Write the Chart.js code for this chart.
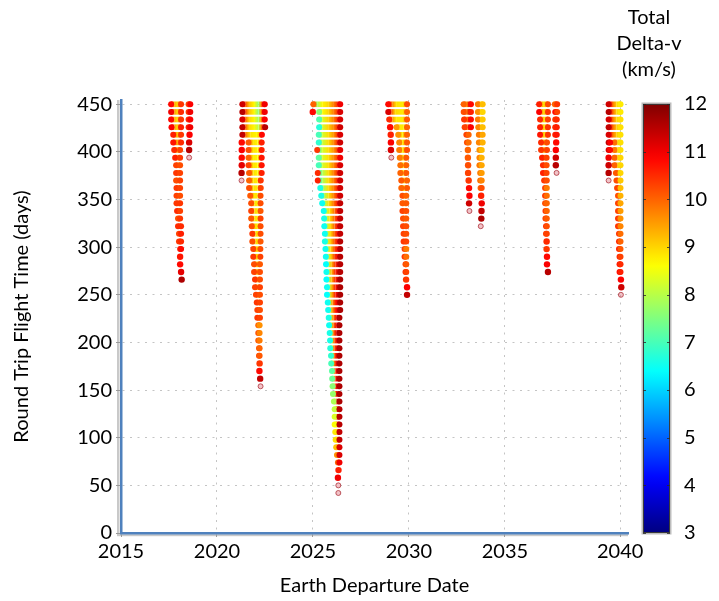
<!DOCTYPE html>
<html>
<head>
<meta charset="utf-8">
<script src="https://cdn.jsdelivr.net/npm/chart.js@4.4.0/dist/chart.umd.min.js"></script>
<style>
  html, body { margin: 0; padding: 0; background: #fff; }
</style>
</head>
<body>
<canvas id="porkchop" width="719" height="601"></canvas>
<script>
// ===================================
// Round trip flight time vs. Earth departure date, coloured by total delta-v
// ===================================

// Flight time of each row (days); row i of every window uses flightTimes[i]
const flightTimes = [450, 442, 434, 426, 418, 410, 402, 394, 386, 378, 370, 362, 354, 346, 338, 330,
    322, 314, 306, 298, 290, 282, 274, 266, 258, 250, 242, 234, 226, 218, 210, 202, 194, 186, 178,
    170, 162, 154, 146, 138, 130, 122, 114, 106, 98, 90, 82, 74, 66, 58, 50, 42];

const xTickValues = [2015, 2020, 2025, 2030, 2035, 2041];
const xTickLabels = ['2015', '2020', '2025', '2030', '2035', '2040'];
const yTickValues = [0, 50, 100, 150, 200, 250, 300, 350, 400, 450];
const colorbarTicks = [3, 4, 5, 6, 7, 8, 9, 10, 11, 12];
const colorbarTitle = ['Total', 'Delta-v', '(km/s)'];
const dvMin = 3;
const dvMax = 12;

// Each row is a list of runs; a run is [departure year, delta-v, departure year, delta-v, ...]
const launch2018 = [
    [[2017.61, 10.8, 2017.77, 9.4, 2017.92, 9.0, 2018.13, 10.4], [2018.52, 10.3, 2018.61, 10.9]],
    [[2017.61, 11.0, 2017.77, 9.6, 2017.92, 9.0, 2018.13, 10.5], [2018.52, 10.4, 2018.61, 11.0]],
    [[2017.61, 10.8, 2017.77, 9.4, 2017.92, 8.9, 2018.13, 10.4], [2018.52, 10.5, 2018.61, 10.9]],
    [[2017.63, 10.9, 2017.79, 9.5, 2017.92, 9.0, 2018.13, 10.6], [2018.52, 10.6, 2018.61, 11.0]],
    [[2017.72, 10.6, 2017.92, 9.1, 2018.13, 10.4], [2018.57, 10.9]],
    [[2017.72, 10.7, 2017.92, 9.3, 2018.13, 10.5], [2018.55, 11.2]],
    [[2017.77, 10.5, 2017.92, 9.3, 2018.08, 10.3], [2018.55, 11.5]],
    [[2017.82, 10.6, 2017.95, 9.4, 2018.08, 10.4], [2018.55, 11.7]],
    [[2017.87, 10.3, 2017.97, 9.4, 2018.08, 10.2]],
    [[2017.87, 10.4, 2017.97, 9.5, 2018.08, 10.3]],
    [[2017.87, 10.2, 2017.97, 9.3, 2018.08, 10.3]],
    [[2017.89, 10.4, 2017.99, 9.5, 2018.08, 10.3]],
    [[2017.89, 10.3, 2017.99, 9.6, 2018.08, 10.2]],
    [[2017.89, 10.4, 2017.99, 9.7, 2018.08, 10.4]],
    [[2017.92, 10.5, 2018.00, 9.6, 2018.08, 10.3]],
    [[2017.97, 10.2, 2018.08, 10.4]],
    [[2017.97, 10.5, 2018.05, 9.8, 2018.13, 10.5]],
    [[2018.02, 10.3, 2018.13, 10.6]],
    [[2018.02, 10.4, 2018.13, 10.5]],
    [[2018.08, 10.6, 2018.13, 10.8]],
    [[2018.08, 10.7]],
    [[2018.08, 10.8]],
    [[2018.13, 11.1]],
    [[2018.16, 11.6]]
];

const launch2022 = [
    [[2021.32, 11.3, 2021.47, 10.2, 2021.67, 9.2, 2021.93, 8.7, 2022.16, 7.7, 2022.29, 9.6, 2022.39, 10.8, 2022.49, 11.0]],
    [[2021.32, 11.5, 2021.47, 10.3, 2021.67, 9.2, 2021.93, 8.7, 2022.16, 7.6, 2022.29, 9.5, 2022.39, 10.7, 2022.49, 11.0]],
    [[2021.32, 11.2, 2021.47, 10.0, 2021.67, 9.0, 2021.93, 8.7, 2022.16, 7.8, 2022.29, 9.4, 2022.39, 10.8, 2022.49, 10.9]],
    [[2021.32, 11.4, 2021.47, 10.1, 2021.67, 9.0, 2021.93, 8.7, 2022.16, 8.0, 2022.29, 9.6, 2022.39, 10.8, 2022.51, 11.5]],
    [[2021.32, 11.4, 2021.47, 9.9, 2021.73, 8.9, 2022.08, 8.7, 2022.24, 9.4, 2022.34, 10.8]],
    [[2021.29, 10.8], [2021.64, 10.1, 2021.88, 8.9, 2022.11, 8.7, 2022.23, 9.3, 2022.33, 10.6]],
    [[2021.29, 10.9], [2021.64, 10.2, 2021.88, 8.9, 2022.11, 8.7, 2022.23, 9.2, 2022.33, 10.6]],
    [[2021.29, 10.8], [2021.64, 10.0, 2021.88, 8.8, 2022.11, 8.7, 2022.23, 9.3, 2022.33, 10.7]],
    [[2021.29, 11.1], [2021.64, 10.3, 2021.88, 8.9, 2022.11, 8.7, 2022.23, 9.4, 2022.33, 10.7]],
    [[2021.28, 11.5], [2021.67, 10.1, 2021.91, 8.9, 2022.11, 8.7, 2022.23, 9.3, 2022.33, 10.6]],
    [[2021.28, 11.8], [2021.67, 10.0, 2021.91, 8.9, 2022.11, 8.8, 2022.28, 10.4]],
    [[2021.67, 10.2, 2021.91, 8.9, 2022.11, 8.8, 2022.28, 10.3]],
    [[2021.73, 10.1, 2021.93, 8.9, 2022.11, 8.8, 2022.27, 10.2]],
    [[2021.78, 10.2, 2021.96, 8.9, 2022.13, 8.8, 2022.27, 10.2]],
    [[2021.78, 10.3, 2021.96, 9.0, 2022.13, 8.8, 2022.27, 10.1]],
    [[2021.78, 10.1, 2021.96, 8.9, 2022.13, 8.8, 2022.27, 10.3]],
    [[2021.81, 10.2, 2021.98, 9.0, 2022.13, 8.8, 2022.27, 10.2]],
    [[2021.84, 10.4, 2022.01, 9.0, 2022.14, 8.8, 2022.27, 10.2]],
    [[2021.84, 10.2, 2022.01, 9.0, 2022.14, 8.8, 2022.27, 10.1]],
    [[2021.89, 10.3, 2022.03, 9.1, 2022.16, 8.9, 2022.26, 10.2]],
    [[2021.89, 10.4, 2022.03, 9.1, 2022.16, 8.9, 2022.26, 10.3]],
    [[2021.93, 10.2, 2022.08, 9.0, 2022.24, 10.1]],
    [[2021.93, 10.3, 2022.08, 9.1, 2022.24, 10.2]],
    [[2021.98, 10.4, 2022.11, 9.1, 2022.24, 10.2]],
    [[2021.98, 10.3, 2022.11, 9.2, 2022.24, 10.3]],
    [[2022.03, 10.3, 2022.14, 9.2, 2022.24, 10.2]],
    [[2022.07, 10.4, 2022.16, 9.3, 2022.24, 10.3]],
    [[2022.10, 10.3, 2022.17, 9.3, 2022.24, 10.2]],
    [[2022.10, 10.4, 2022.17, 9.4, 2022.24, 10.3]],
    [[2022.15, 10.0, 2022.22, 9.6]],
    [[2022.15, 10.2, 2022.22, 9.7]],
    [[2022.15, 10.1, 2022.22, 9.8]],
    [[2022.19, 10.2, 2022.22, 10.0]],
    [[2022.19, 10.3, 2022.22, 10.1]],
    [[2022.22, 10.4]],
    [[2022.21, 10.8]],
    [[2022.25, 11.4]],
    [[2022.27, 11.8]]
];

const launch2026 = [
    [[2025.02, 10.0, 2025.22, 7.8, 2025.48, 8.7, 2025.79, 9.0, 2026.09, 9.8, 2026.30, 10.5, 2026.42, 11.0]],
    [[2024.99, 10.8], [2025.32, 7.6, 2025.48, 8.6, 2025.79, 9.0, 2026.09, 9.8, 2026.30, 10.5, 2026.42, 11.2]],
    [[2025.32, 7.1, 2025.48, 8.3, 2025.79, 9.0, 2026.09, 9.8, 2026.30, 10.6, 2026.42, 11.2]],
    [[2025.32, 6.7, 2025.48, 8.2, 2025.79, 9.0, 2026.09, 9.7, 2026.30, 10.6, 2026.42, 11.3]],
    [[2025.30, 7.0, 2025.48, 8.2, 2025.79, 8.9, 2026.09, 9.6, 2026.30, 10.5, 2026.42, 11.2]],
    [[2025.30, 6.8, 2025.48, 8.1, 2025.79, 8.9, 2026.09, 9.7, 2026.30, 10.6, 2026.42, 11.3]],
    [[2025.22, 10.4, 2025.32, 7.0, 2025.48, 8.2, 2025.79, 8.9, 2026.09, 9.6, 2026.30, 10.4, 2026.42, 11.1]],
    [[2025.30, 7.2, 2025.48, 8.3, 2025.79, 8.9, 2026.09, 9.7, 2026.30, 10.4, 2026.42, 11.0]],
    [[2025.30, 7.0, 2025.48, 8.2, 2025.79, 8.9, 2026.09, 9.7, 2026.30, 10.5, 2026.42, 11.2]],
    [[2025.25, 10.5, 2025.35, 6.9, 2025.51, 8.0, 2025.79, 8.9, 2026.09, 9.8, 2026.30, 10.6, 2026.42, 11.3]],
    [[2025.25, 10.6, 2025.35, 6.7, 2025.51, 7.9, 2025.79, 8.9, 2026.09, 9.8, 2026.30, 10.7, 2026.42, 11.3]],
    [[2025.38, 6.6, 2025.53, 7.8, 2025.79, 8.9, 2026.09, 9.8, 2026.30, 10.7, 2026.42, 11.3]],
    [[2025.43, 6.6, 2025.58, 7.9, 2025.82, 8.9, 2026.09, 9.8, 2026.30, 10.7, 2026.42, 11.3]],
    [[2025.48, 6.5, 2025.61, 7.9, 2025.82, 8.9, 2026.09, 9.9, 2026.30, 10.8, 2026.42, 11.4]],
    [[2025.56, 6.5, 2025.67, 8.0, 2025.87, 8.9, 2026.12, 9.9, 2026.30, 10.8, 2026.42, 11.4]],
    [[2025.58, 6.6, 2025.69, 8.0, 2025.87, 8.9, 2026.12, 10.0, 2026.30, 10.8, 2026.42, 11.4]],
    [[2025.59, 6.5, 2025.70, 7.9, 2025.89, 8.9, 2026.12, 10.0, 2026.30, 10.9, 2026.42, 11.4]],
    [[2025.62, 6.5, 2025.73, 7.9, 2025.89, 8.9, 2026.14, 10.1, 2026.30, 10.9, 2026.42, 11.4]],
    [[2025.62, 6.6, 2025.73, 8.0, 2025.89, 9.0, 2026.14, 10.2, 2026.30, 10.9, 2026.42, 11.5]],
    [[2025.65, 6.5, 2025.77, 8.0, 2025.92, 9.0, 2026.14, 10.3, 2026.30, 10.9, 2026.42, 11.5]],
    [[2025.67, 6.5, 2025.79, 8.1, 2025.94, 9.1, 2026.14, 10.4, 2026.30, 11.0, 2026.42, 11.5]],
    [[2025.68, 6.4, 2025.80, 8.0, 2025.95, 9.2, 2026.17, 10.5, 2026.42, 11.5]],
    [[2025.70, 6.5, 2025.82, 8.1, 2025.97, 9.3, 2026.17, 10.6, 2026.42, 11.5]],
    [[2025.70, 6.4, 2025.82, 8.0, 2025.97, 9.3, 2026.17, 10.6, 2026.42, 11.6]],
    [[2025.73, 6.5, 2025.85, 8.1, 2025.99, 9.4, 2026.17, 10.7, 2026.42, 11.6]],
    [[2025.73, 6.4, 2025.85, 8.0, 2025.99, 9.4, 2026.17, 10.7, 2026.42, 11.6]],
    [[2025.77, 6.5, 2025.89, 8.2, 2026.02, 9.6, 2026.20, 10.8, 2026.42, 11.6]],
    [[2025.79, 6.5, 2025.90, 8.2, 2026.04, 9.7, 2026.20, 10.8, 2026.42, 11.6]],
    [[2025.82, 6.6, 2025.93, 8.3, 2026.07, 9.8, 2026.22, 10.9, 2026.38, 11.6]],
    [[2025.84, 6.5, 2025.94, 8.3, 2026.07, 9.9, 2026.22, 10.9, 2026.38, 11.6]],
    [[2025.87, 6.6, 2025.97, 8.4, 2026.09, 10.0, 2026.22, 11.0, 2026.38, 11.6]],
    [[2025.89, 6.6, 2025.99, 8.4, 2026.11, 10.1, 2026.25, 11.0, 2026.38, 11.6]],
    [[2025.90, 6.7, 2026.00, 8.5, 2026.12, 10.2, 2026.25, 11.0, 2026.38, 11.6]],
    [[2025.94, 6.8, 2026.03, 8.5, 2026.14, 10.3, 2026.27, 11.1, 2026.38, 11.6]],
    [[2025.95, 7.0, 2026.04, 8.6, 2026.15, 10.4, 2026.27, 11.1, 2026.38, 11.6]],
    [[2025.99, 7.2, 2026.07, 8.7, 2026.17, 10.5, 2026.27, 11.1, 2026.38, 11.6]],
    [[2026.00, 7.3, 2026.08, 8.7, 2026.17, 10.5, 2026.27, 11.2, 2026.38, 11.6]],
    [[2026.02, 7.6, 2026.10, 8.8, 2026.19, 10.6, 2026.29, 11.2, 2026.38, 11.6]],
    [[2026.04, 7.7, 2026.12, 8.8, 2026.20, 10.6, 2026.29, 11.2, 2026.38, 11.6]],
    [[2026.09, 7.9, 2026.15, 8.8, 2026.22, 10.7, 2026.38, 11.6]],
    [[2026.13, 8.1, 2026.19, 8.9, 2026.25, 10.8, 2026.38, 11.5]],
    [[2026.13, 8.3, 2026.19, 9.0, 2026.25, 10.8, 2026.38, 11.5]],
    [[2026.13, 8.6, 2026.20, 9.1, 2026.27, 10.9, 2026.38, 11.5]],
    [[2026.16, 8.8, 2026.23, 9.3, 2026.29, 10.9, 2026.38, 11.4]],
    [[2026.18, 8.9, 2026.25, 9.5, 2026.31, 10.9, 2026.38, 11.4]],
    [[2026.21, 9.2, 2026.27, 9.9, 2026.38, 11.2]],
    [[2026.25, 9.6, 2026.31, 10.6, 2026.38, 11.2]],
    [[2026.30, 10.0, 2026.38, 11.0]],
    [[2026.33, 10.6]],
    [[2026.30, 11.0]],
    [[2026.32, 11.8]],
    [[2026.32, 11.8]]
];

const launch2029 = [
    [[2028.92, 10.8, 2029.13, 9.8, 2029.33, 8.9, 2029.64, 8.8, 2029.82, 9.2, 2029.90, 10.2]],
    [[2028.92, 11.2, 2029.08, 10.2, 2029.28, 9.0, 2029.64, 8.8, 2029.82, 9.2, 2029.90, 10.0]],
    [[2028.97, 10.5, 2029.15, 9.5, 2029.33, 8.8, 2029.64, 8.8, 2029.82, 9.3, 2029.90, 10.1]],
    [[2029.02, 10.8], [2029.35, 9.5, 2029.53, 8.8, 2029.73, 8.8, 2029.90, 10.0]],
    [[2029.05, 10.6], [2029.44, 9.6, 2029.65, 8.8, 2029.90, 10.0]],
    [[2029.06, 10.9], [2029.49, 9.7, 2029.68, 8.8, 2029.90, 10.1]],
    [[2029.06, 11.2], [2029.49, 9.8, 2029.68, 8.8, 2029.90, 10.2]],
    [[2029.08, 11.7], [2029.52, 9.8, 2029.70, 8.8, 2029.86, 10.1]],
    [[2029.55, 9.9, 2029.71, 8.8, 2029.86, 10.0]],
    [[2029.55, 10.0, 2029.71, 8.9, 2029.86, 10.1]],
    [[2029.60, 10.1, 2029.75, 8.9, 2029.90, 10.0]],
    [[2029.60, 10.0, 2029.75, 8.9, 2029.90, 10.1]],
    [[2029.66, 10.2, 2029.76, 9.0, 2029.86, 10.0]],
    [[2029.66, 10.1, 2029.76, 9.0, 2029.86, 10.1]],
    [[2029.66, 10.3, 2029.76, 9.1, 2029.86, 10.2]],
    [[2029.69, 10.2, 2029.78, 9.2, 2029.86, 10.1]],
    [[2029.69, 10.3, 2029.78, 9.3, 2029.86, 10.2]],
    [[2029.72, 10.3, 2029.79, 9.4, 2029.86, 10.2]],
    [[2029.72, 10.4, 2029.79, 9.5, 2029.86, 10.3]],
    [[2029.77, 10.3, 2029.86, 9.8]],
    [[2029.77, 10.4, 2029.86, 9.9]],
    [[2029.82, 10.3, 2029.86, 10.1]],
    [[2029.82, 10.5, 2029.86, 10.3]],
    [[2029.85, 10.4]],
    [[2029.90, 10.9]],
    [[2029.90, 11.4]]
];

const launch2033 = [
    [[2032.85, 10.0, 2033.02, 9.6, 2033.15, 11.2, 2033.23, 10.8], [2033.59, 9.8, 2033.71, 8.8, 2033.84, 9.2]],
    [[2032.85, 10.2, 2033.02, 9.8, 2033.13, 11.4, 2033.23, 10.6], [2033.59, 9.6, 2033.71, 8.9, 2033.84, 9.0]],
    [[2032.87, 10.4, 2033.02, 9.7, 2033.15, 11.0, 2033.23, 10.8], [2033.59, 9.8, 2033.71, 8.8, 2033.84, 9.1]],
    [[2032.90, 10.3, 2033.04, 9.8, 2033.15, 11.0, 2033.23, 10.9], [2033.61, 9.7, 2033.73, 8.8, 2033.84, 9.2]],
    [[2032.99, 10.3, 2033.11, 10.0], [2033.64, 9.8, 2033.74, 8.8, 2033.84, 9.4]],
    [[2033.02, 10.2, 2033.11, 9.9], [2033.64, 9.7, 2033.74, 8.9, 2033.84, 9.3]],
    [[2033.07, 10.0], [2033.67, 9.6, 2033.79, 9.2]],
    [[2033.07, 10.1], [2033.67, 9.7, 2033.79, 9.3]],
    [[2033.08, 10.2], [2033.67, 9.8, 2033.79, 9.4]],
    [[2033.08, 10.3], [2033.71, 9.8, 2033.79, 9.5]],
    [[2033.11, 10.4], [2033.71, 9.9, 2033.79, 9.7]],
    [[2033.13, 10.8], [2033.73, 10.0, 2033.79, 10.2]],
    [[2033.15, 10.9], [2033.76, 10.6]],
    [[2033.13, 11.3], [2033.79, 11.0]],
    [[2033.15, 11.8], [2033.78, 11.4]],
    [[2033.77, 11.6]],
    [[2033.74, 11.8]]
];

const launch2037 = [
    [[2036.78, 10.6, 2036.91, 9.4, 2037.03, 8.9, 2037.14, 9.2, 2037.24, 10.2], [2037.60, 10.0, 2037.72, 10.4]],
    [[2036.78, 10.9, 2036.91, 9.5, 2037.03, 9.0, 2037.14, 9.3, 2037.24, 10.4], [2037.62, 10.8, 2037.72, 10.3]],
    [[2036.83, 10.5, 2036.94, 9.3, 2037.04, 8.9, 2037.14, 9.2, 2037.24, 10.3], [2037.62, 10.4, 2037.70, 10.5]],
    [[2036.83, 10.6, 2036.94, 9.4, 2037.04, 8.9, 2037.14, 9.3, 2037.24, 10.4], [2037.62, 10.5, 2037.70, 10.6]],
    [[2036.83, 10.7, 2036.94, 9.4, 2037.04, 9.0, 2037.14, 9.3, 2037.24, 10.4], [2037.62, 10.6, 2037.70, 10.7]],
    [[2036.88, 10.5, 2036.99, 9.3, 2037.09, 9.2, 2037.19, 10.2], [2037.67, 10.8]],
    [[2036.88, 10.4, 2036.99, 9.4, 2037.09, 9.3, 2037.19, 10.3], [2037.65, 10.9]],
    [[2036.93, 10.6, 2037.04, 9.5, 2037.17, 10.3], [2037.65, 11.3]],
    [[2036.98, 10.5, 2037.07, 9.5, 2037.17, 10.2], [2037.65, 11.5]],
    [[2036.98, 10.6, 2037.07, 9.6, 2037.17, 10.3], [2037.69, 11.8]],
    [[2037.04, 10.4, 2037.11, 9.6, 2037.18, 10.2]],
    [[2037.09, 10.3, 2037.18, 9.8]],
    [[2037.09, 10.4, 2037.18, 9.9]],
    [[2037.09, 10.2, 2037.18, 10.0]],
    [[2037.11, 10.4, 2037.18, 10.0]],
    [[2037.11, 10.3, 2037.18, 10.1]],
    [[2037.14, 10.5, 2037.18, 10.2]],
    [[2037.14, 10.4, 2037.18, 10.3]],
    [[2037.17, 10.5]],
    [[2037.17, 10.4]],
    [[2037.19, 10.8]],
    [[2037.19, 10.9]],
    [[2037.24, 11.5]]
];

const launch2040 = [
    [[2040.40, 11.3, 2040.50, 10.8, 2040.63, 9.8, 2040.82, 9.0, 2041.02, 8.8]],
    [[2040.40, 11.5, 2040.50, 10.9, 2040.63, 9.9, 2040.82, 9.0, 2041.02, 8.8]],
    [[2040.40, 11.2, 2040.50, 10.7, 2040.63, 9.8, 2040.82, 9.0, 2041.02, 8.9]],
    [[2040.40, 11.4, 2040.50, 10.8, 2040.63, 9.9, 2040.82, 9.1, 2041.02, 8.9]],
    [[2040.40, 11.2, 2040.50, 10.7, 2040.63, 9.8, 2040.82, 9.1, 2041.02, 8.9]],
    [[2040.40, 11.4, 2040.48, 10.9], [2040.70, 9.9, 2040.85, 9.1, 2041.02, 8.9]],
    [[2040.40, 11.2, 2040.48, 10.8], [2040.70, 9.8, 2040.85, 9.1, 2041.02, 8.9]],
    [[2040.40, 11.0], [2040.70, 10.0, 2040.85, 9.2, 2041.02, 9.0]],
    [[2040.40, 11.3], [2040.70, 10.0, 2040.85, 9.2, 2041.02, 9.0]],
    [[2040.40, 11.5], [2040.78, 10.1, 2040.90, 9.3, 2041.02, 9.0]],
    [[2040.40, 11.8], [2040.81, 10.2, 2040.92, 9.4, 2041.02, 9.1]],
    [[2040.84, 10.3, 2040.93, 9.5, 2041.02, 9.2]],
    [[2040.89, 10.2, 2041.02, 9.3]],
    [[2040.89, 10.3, 2041.02, 9.4]],
    [[2040.89, 10.3, 2041.02, 9.5]],
    [[2040.89, 10.4, 2041.02, 9.6]],
    [[2040.89, 10.4, 2041.02, 9.7]],
    [[2040.94, 10.4, 2041.02, 9.9]],
    [[2040.94, 10.5, 2041.02, 10.0]],
    [[2040.94, 10.6, 2041.02, 10.1]],
    [[2040.97, 10.6, 2041.02, 10.3]],
    [[2040.97, 10.7, 2041.02, 10.5]],
    [[2040.97, 10.8, 2041.02, 10.6]],
    [[2041.04, 10.9]],
    [[2041.06, 11.3]],
    [[2041.04, 11.8]]
];

const launchWindows = [launch2018, launch2022, launch2026, launch2029, launch2033, launch2037, launch2040];

// Layout (pixels)
const PLOT_TOP = 100;
const X_AXIS_HEIGHT = 65;
const Y_AXIS_WIDTH = 121;
const RIGHT_SPACE = 91;
const STRIP_WIDTH = 5.6;
const AXIS_BLUE = '#4f81bd';
const FONT = 'Lato, "Open Sans", sans-serif';

Chart.defaults.font.family = FONT;
Chart.defaults.font.size = 20;
Chart.defaults.color = '#000';

// Jet colormap over [dvMin, dvMax]
function jet(dv, alpha) {
    const t = Math.min(1, Math.max(0, (dv - dvMin) / (dvMax - dvMin)));
    const c = v => Math.round(255 * Math.min(1, Math.max(0, v)));
    const r = c(1.5 - Math.abs(4 * t - 3));
    const g = c(1.5 - Math.abs(4 * t - 2));
    const b = c(1.5 - Math.abs(4 * t - 1));
    return `rgba(${r}, ${g}, ${b}, ${alpha === undefined ? 1 : alpha})`;
}

function stripDataset(pts) {
    const n = pts.length;
    const faint = n === 1 && pts[0].dv >= 11.7;
    return {
        data: pts,
        xAxisID: 'x',
        yAxisID: 'y',
        borderWidth: STRIP_WIDTH,
        borderCapStyle: 'butt',
        borderJoinStyle: 'miter',
        borderColor: jet(pts[0].dv),
        fill: false,
        tension: 0,
        // round ends of each strip come from the first and last point
        pointRadius: c => {
            if (n === 1) return faint ? 2.5 : 3.2;
            return (c.dataIndex === 0 || c.dataIndex === n - 1) ? STRIP_WIDTH / 2 + 0.2 : 0;
        },
        pointBorderWidth: faint ? 1 : 0,
        pointBackgroundColor: c => faint ? 'rgba(225, 120, 130, 0.45)' : jet(pts[c.dataIndex].dv),
        pointBorderColor: 'rgba(170, 40, 50, 0.75)',
        segment: {
            borderColor: c => {
                const grad = c.chart.ctx.createLinearGradient(c.p0.x, 0, c.p1.x + 0.01, 0);
                grad.addColorStop(0, jet(pts[c.p0DataIndex].dv));
                grad.addColorStop(1, jet(pts[c.p1DataIndex].dv));
                return grad;
            }
        }
    };
}

const datasets = [];
launchWindows.forEach(rows => {
    rows.forEach((runs, i) => {
        runs.forEach(run => {
            const pts = [];
            for (let k = 0; k < run.length; k += 2) {
                pts.push({ x: run[k], y: flightTimes[i], dv: run[k + 1] });
            }
            datasets.push(stripDataset(pts));
        });
    });
});

// Grey shadow behind the blue axes
const axisShadowPlugin = {
    id: 'axisShadow',
    beforeDraw(chart) {
        const { ctx, chartArea: a } = chart;
        ctx.save();
        ctx.fillStyle = '#c9c9c9';
        ctx.fillRect(a.left - 4, a.top, 2.5, a.bottom - a.top + 2);
        ctx.fillRect(a.left - 4, a.bottom + 1.2, a.right - a.left + 4, 2);
        ctx.restore();
    }
};

// Colour bar with its title
const colorbarPlugin = {
    id: 'colorbar',
    afterDraw(chart) {
        const { ctx, chartArea: a } = chart;
        const cb = chart.scales.cb;
        const top = cb.getPixelForValue(dvMax);
        const bottom = cb.getPixelForValue(dvMin);
        const x0 = a.right + 15;
        const w = 27;

        ctx.save();
        const grad = ctx.createLinearGradient(0, bottom, 0, top);
        for (let i = 0; i <= 45; i++) {
            grad.addColorStop(i / 45, jet(dvMin + (dvMax - dvMin) * i / 45));
        }
        ctx.fillStyle = '#bdbdbd';
        ctx.fillRect(x0 - 1.5, top - 1.5, w + 3, bottom - top + 3);
        ctx.fillStyle = grad;
        ctx.fillRect(x0, top, w, bottom - top);
        ctx.strokeStyle = '#3a3a3a';
        ctx.lineWidth = 1;
        ctx.strokeRect(x0 + 0.5, top + 0.5, w - 1, bottom - top - 1);

        ctx.strokeStyle = 'rgba(40, 40, 40, 0.8)';
        colorbarTicks.forEach(v => {
            const y = Math.round(cb.getPixelForValue(v)) + 0.5;
            ctx.beginPath();
            ctx.moveTo(x0, y); ctx.lineTo(x0 + 3, y);
            ctx.moveTo(x0 + w - 3, y); ctx.lineTo(x0 + w, y);
            ctx.stroke();
        });

        ctx.fillStyle = '#000';
        ctx.font = '20px ' + FONT;
        ctx.textAlign = 'center';
        ctx.textBaseline = 'middle';
        colorbarTitle.forEach((line, i) => ctx.fillText(line, x0 + 6, 18 + i * 26));
        ctx.restore();
    }
};

new Chart(document.getElementById('porkchop'), {
    type: 'line',
    data: { datasets: datasets },
    options: {
        responsive: false,
        animation: false,
        events: [],
        layout: { padding: { top: PLOT_TOP, left: 0, right: 0, bottom: 0 } },
        plugins: {
            legend: { display: false },
            tooltip: { enabled: false },
            title: { display: false }
        },
        scales: {
            x: {
                type: 'linear',
                position: 'bottom',
                min: 2015,
                max: 2041.41,
                afterBuildTicks: s => { s.ticks = xTickValues.map(v => ({ value: v })); },
                afterFit: s => { s.height = X_AXIS_HEIGHT; },
                ticks: {
                    autoSkip: false,
                    maxRotation: 0,
                    padding: 3,
                    color: '#000',
                    callback: (v, i) => xTickLabels[i]
                },
                grid: { color: '#c4c4c4', lineWidth: 1, tickLength: 4, tickColor: '#9a9a9a', tickBorderDash: [] },
                border: { display: true, color: AXIS_BLUE, width: 2.5, dash: [2, 5.5] },
                title: { display: true, text: 'Earth Departure Date', color: '#000', padding: { top: 0, bottom: 0 } }
            },
            y: {
                type: 'linear',
                position: 'left',
                min: 0,
                max: 454.5,
                afterBuildTicks: s => { s.ticks = yTickValues.map(v => ({ value: v })); },
                afterFit: s => { s.width = Y_AXIS_WIDTH; },
                ticks: { padding: 4, color: '#000' },
                grid: { color: '#c4c4c4', lineWidth: 1, tickLength: 5, tickColor: '#9a9a9a', tickBorderDash: [] },
                border: { display: true, color: AXIS_BLUE, width: 2.5, dash: [2, 5.5] },
                title: { display: true, text: 'Round Trip Flight Time (days)', color: '#000', padding: { top: 10, bottom: 0 } }
            },
            cb: {
                axis: 'y',
                type: 'linear',
                position: 'right',
                min: dvMin,
                max: 12.083,
                afterBuildTicks: s => { s.ticks = colorbarTicks.map(v => ({ value: v })); },
                afterFit: s => { s.width = RIGHT_SPACE; },
                ticks: { padding: 56, color: '#000' },
                grid: { display: false, drawTicks: false },
                border: { display: false }
            }
        }
    },
    plugins: [axisShadowPlugin, colorbarPlugin]
});
</script>
</body>
</html>
